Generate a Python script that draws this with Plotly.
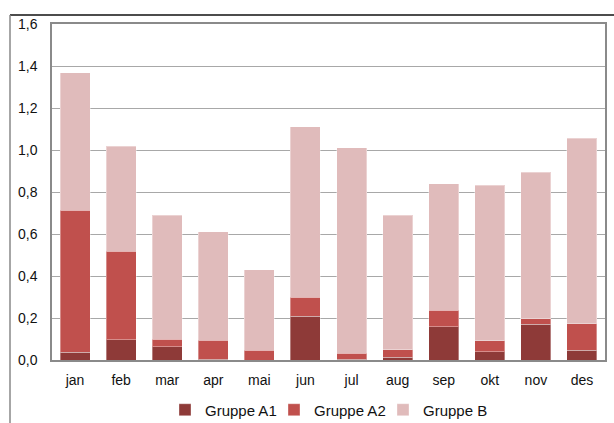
import plotly.graph_objects as go

months = ["jan", "feb", "mar", "apr", "mai", "jun", "jul", "aug", "sep", "okt", "nov", "des"]
gruppe_a1 = [0.037, 0.097, 0.063, 0.003, 0.0, 0.208, 0.003, 0.013, 0.159, 0.040, 0.170, 0.046]
gruppe_a2 = [0.677, 0.422, 0.035, 0.091, 0.046, 0.090, 0.030, 0.036, 0.079, 0.052, 0.027, 0.127]
gruppe_b = [0.653, 0.500, 0.591, 0.517, 0.383, 0.812, 0.978, 0.641, 0.602, 0.740, 0.697, 0.884]
y_ticks = [0.0, 0.2, 0.4, 0.6, 0.8, 1.0, 1.2, 1.4, 1.6]

W, H = 614, 423
L, R, T, B = 52, 9, 24, 63
pw, ph = W - L - R, H - T - B

def px_x(p):
    return (p - L) / pw

def px_y(p):
    return (H - B - p) / ph

series = [
    ("Gruppe A1", gruppe_a1, "#8e3a38"),
    ("Gruppe A2", gruppe_a2, "#c0504d"),
    ("Gruppe B", gruppe_b, "#e0bbbb"),
]

fig = go.Figure()
for name, vals, col in series:
    fig.add_trace(go.Bar(
        x=months, y=vals, name=name,
        marker=dict(color=col, line=dict(color="rgba(255,255,255,0.35)", width=1)),
    ))

fig.update_layout(
    barmode="stack",
    bargap=0.35,
    width=W, height=H,
    margin=dict(l=L, r=R, t=T, b=B, autoexpand=False),
    paper_bgcolor="white",
    plot_bgcolor="white",
    separators=", ",
    font=dict(family="Liberation Sans, Arial, sans-serif", size=14, color="#111"),
    legend=dict(
        orientation="h", xref="paper", x=0.5, xanchor="center",
        yref="container", y=1 - 410 / H, yanchor="middle",
        font=dict(size=15), traceorder="normal", itemwidth=30,
        entrywidth=64, entrywidthmode="pixels",
        bgcolor="rgba(0,0,0,0)",
    ),
    showlegend=True,
)
fig.update_xaxes(
    showline=True, linecolor="#8a8a8a", linewidth=1.5, mirror=True,
    ticks="", showgrid=False, ticklabelstandoff=6,
)
fig.update_yaxes(
    range=[0, 1.6], tickvals=y_ticks, tickformat=".1f",
    showline=True, linecolor="#8a8a8a", linewidth=1.5, mirror=True,
    showgrid=True, gridcolor="#a8a8a8", gridwidth=1.2,
    ticks="", zeroline=False, ticklabelstandoff=10,
)

# outer frame (top black line, left gray line)
fig.add_shape(type="line", xref="paper", yref="paper",
              x0=px_x(10), x1=px_x(W + 5), y0=px_y(15), y1=px_y(15),
              line=dict(color="#111", width=1.5))
fig.add_shape(type="line", xref="paper", yref="paper",
              x0=px_x(10), x1=px_x(10), y0=px_y(15), y1=px_y(H + 5),
              line=dict(color="#888", width=1.5))

fig.write_html(
    "out.html",
    config={"displayModeBar": False},
    post_script="document.body.style.margin='0';document.body.style.overflow='hidden';",
)
